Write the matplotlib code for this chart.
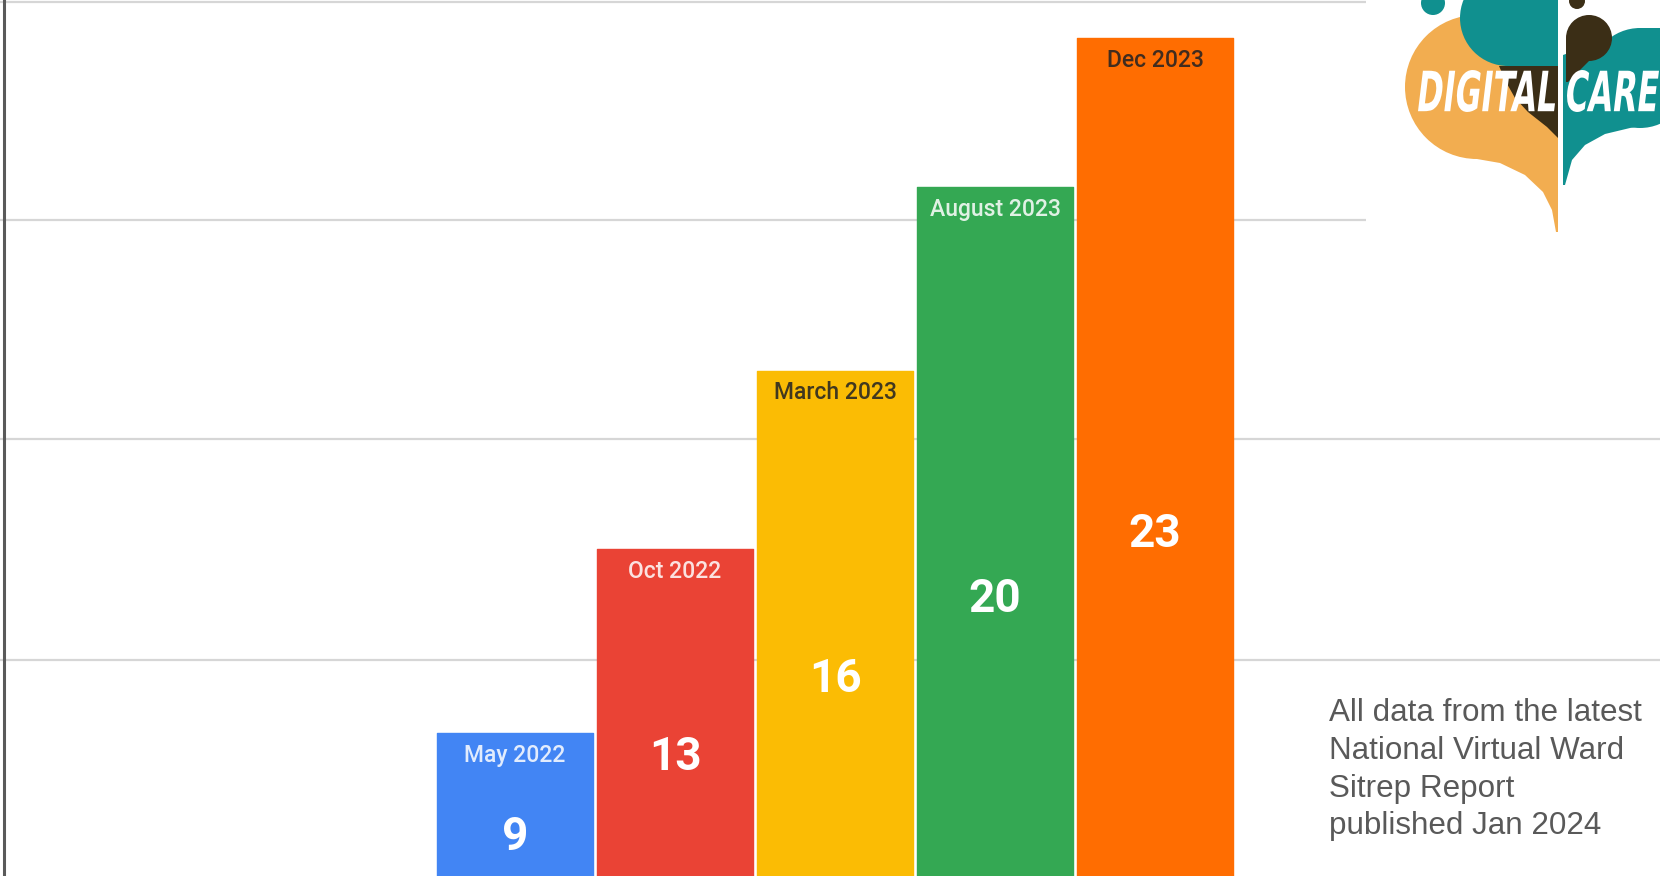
import matplotlib
matplotlib.use("Agg")
import matplotlib.pyplot as plt
from matplotlib.patches import Circle, Polygon, Rectangle, PathPatch
from matplotlib.textpath import TextPath
from matplotlib.font_manager import FontProperties
from matplotlib.transforms import Affine2D

# ---------------- data ----------------
categories = ["May 2022", "Oct 2022", "March 2023", "August 2023", "Dec 2023"]
values = [9, 13, 16, 20, 23]                 # labels shown on the bars
bar_heights = [9.0, 12.7, 16.3, 20.0, 23.0]  # bar heights
grid_values = [10.47, 14.92, 19.33, 23.73]
note_lines = ["All data from the latest", "National Virtual Ward",
              "Sitrep Report", "published Jan 2024"]

# ---------------- style ----------------
bar_colors = ["#4285F4", "#EA4335", "#FBBC04", "#34A853", "#FF6D01"]
cat_colors = ["#FFFFFF", "#FFFFFF", "#202124", "#FFFFFF", "#202124"]
cat_alpha = [0.85, 0.85, 0.85, 0.85, 0.85]

W, H = 1660, 876
fig = plt.figure(figsize=(W / 100, H / 100), dpi=100)
fig.patch.set_facecolor("white")

ax = fig.add_axes([0, 0, 1, 1])
ax.set_xlim((0 - 515) / 160, (W - 515) / 160)
ax.set_ylim(6.12, 23.767)
ax.axis("off")

for g in grid_values:
    ax.axhline(g, color="#d6d6d6", lw=1.6, zorder=0)
ax.axvline((3.5 - 515) / 160, color="#5a5a5a", lw=2.2, zorder=3)

x = list(range(len(categories)))
bars = ax.bar(x, bar_heights, width=0.975, color=bar_colors, zorder=2,
              edgecolor=bar_colors, linewidth=1.0, joinstyle="round")

for xi, h, cat, v, tc, ta in zip(x, bar_heights, categories, values, cat_colors, cat_alpha):
    ax.annotate(cat, (xi, h), xytext=(0, -16), textcoords="offset points",
                ha="center", va="center", fontsize=16.5, family="Roboto",
                fontweight="medium", color=tc, alpha=ta, zorder=4)
    ax.text(xi, 2.98 + 0.436 * h, str(v), ha="center", va="center",
            fontsize=33, fontweight="bold", family="Roboto",
            color="white", zorder=4)

# note text
for i, line in enumerate(note_lines):
    fig.text(1329 / W, 1 - (721 + 37.8 * i) / H, line, ha="left", va="baseline",
             fontsize=22.6, family="Liberation Sans", color="#595959")

# ---------------- logo ----------------
lx0, ly1 = 1366, 235
lax = fig.add_axes([lx0 / W, 1 - ly1 / H, (W - lx0) / W, ly1 / H])
lax.set_xlim(lx0, W)
lax.set_ylim(ly1, 0)
lax.set_facecolor("white")
lax.set_xticks([]); lax.set_yticks([])
for s in lax.spines.values():
    s.set_visible(False)

orange = "#F2AD50"
teal = "#10908F"
brown = "#3B2E16"

lax.add_patch(Circle((1477, 87), 72, fc=orange, ec="none"))
lax.add_patch(Polygon([(1477, 159), (1500, 163), (1525, 175), (1543, 192),
                       (1552, 210), (1556, 232), (1558, 232), (1558, 60), (1477, 60)],
                      closed=True, fc=orange, ec="none"))
lax.add_patch(Circle((1508, 18), 48, fc=teal, ec="none"))
lax.add_patch(Rectangle((1508, -5), 50, 72, fc=teal, ec="none"))
lax.add_patch(Polygon([(1499, 66), (1558, 66), (1558, 138), (1547, 127),
                       (1528, 112), (1515, 98), (1506, 82)],
                      closed=True, fc=brown, ec="none"))
lax.add_patch(Circle((1640, 78), 50, fc=teal, ec="none"))
lax.add_patch(Polygon([(1563, 55), (1640, 28), (1662, 28), (1662, 122), (1630, 128),
                       (1605, 134), (1585, 145), (1572, 160), (1565, 185), (1563, 185)],
                      closed=True, fc=teal, ec="none"))
lax.add_patch(Circle((1589, 38), 23, fc=brown, ec="none"))
lax.add_patch(Polygon([(1566, 38), (1589, 61), (1580, 70), (1568, 82), (1566, 82)],
                      closed=True, fc=brown, ec="none"))
lax.add_patch(Circle((1577, 1), 8, fc=brown, ec="none"))
lax.add_patch(Circle((1433, 3), 12, fc=teal, ec="none"))


def fit_text(axis, s, x0, x1, ytop, ybot, color):
    fp = FontProperties(family="DejaVu Sans", weight="bold")
    tp = TextPath((0, 0), s, size=10, prop=fp)
    tp = Affine2D().skew_deg(12, 0).transform_path(tp)
    ext = tp.get_extents()
    sx = (x1 - x0) / ext.width
    sy = (ybot - ytop) / ext.height
    tr = Affine2D().translate(-ext.x0, -ext.y0).scale(sx, -sy).translate(x0, ybot)
    axis.add_patch(PathPatch(tr.transform_path(tp), fc=color, ec="none", zorder=5))


fit_text(lax, "DIGITAL", 1418, 1555, 70, 112, "white")
fit_text(lax, "CARE", 1567, 1659, 70, 112, "white")

fig.savefig("out.png", dpi=100, facecolor="white")
